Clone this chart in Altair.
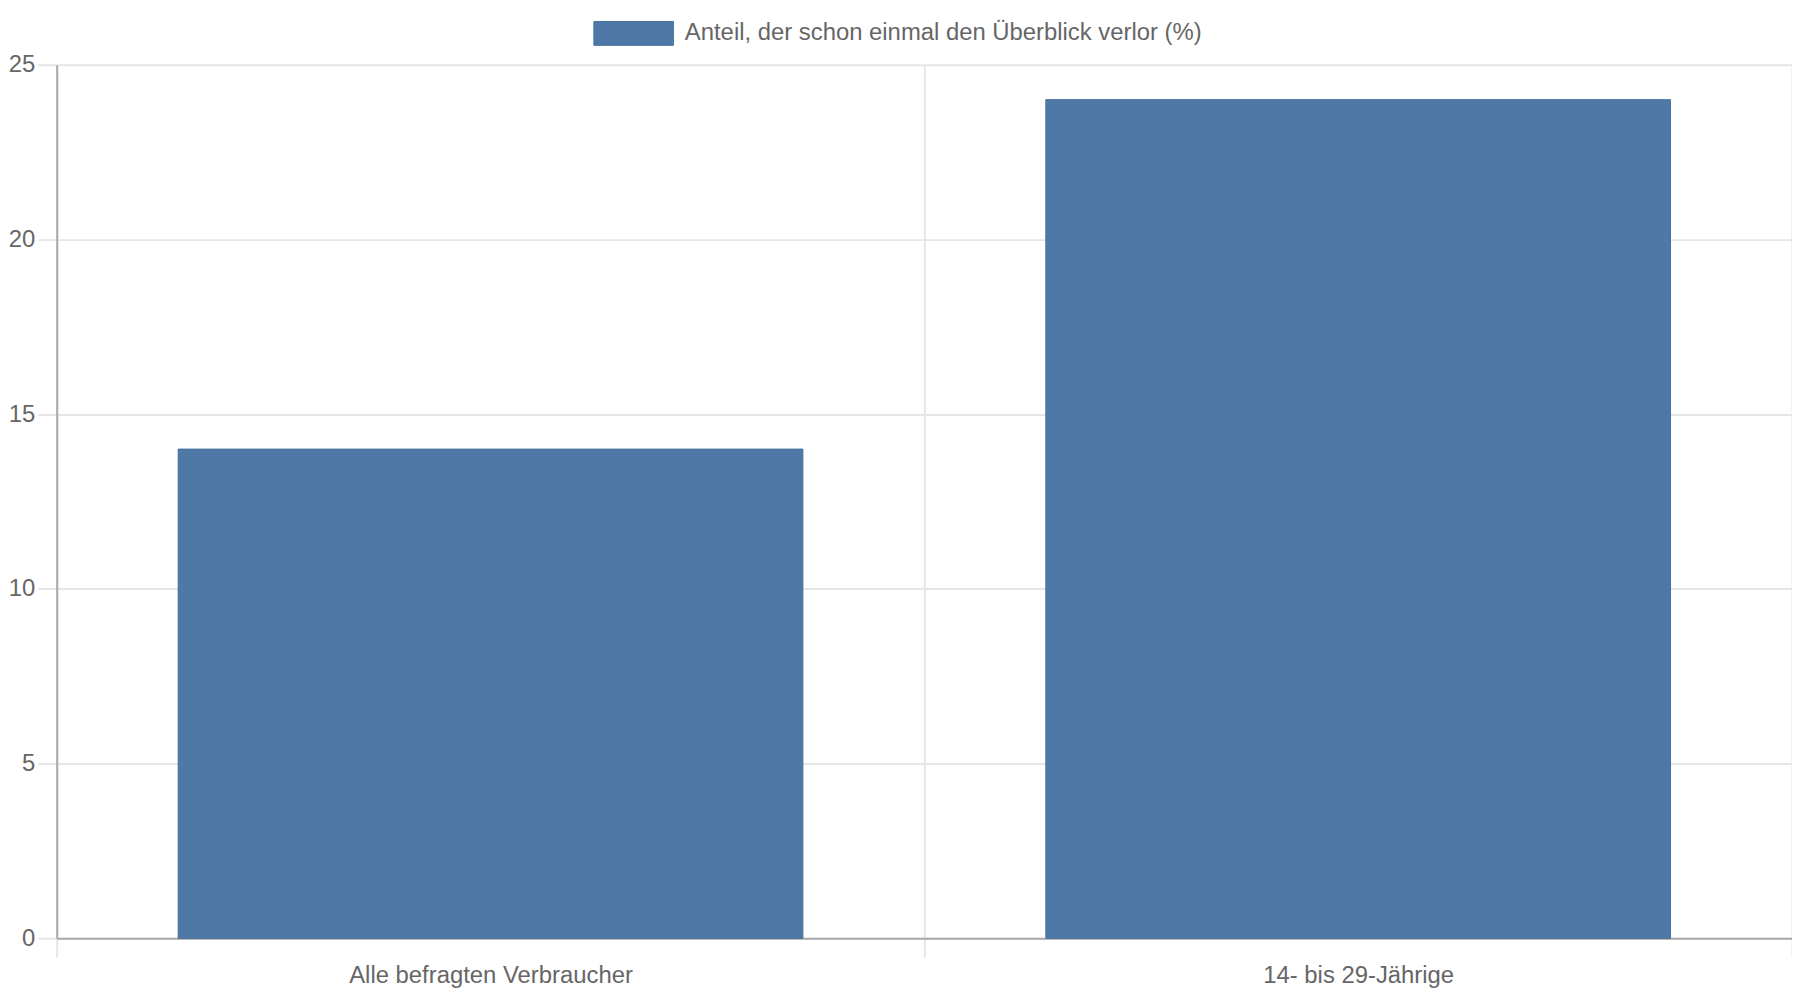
import altair as alt
import pandas as pd

categories = ["Alle befragten Verbraucher", "14- bis 29-Jährige"]
values = [14, 24]
series = "Anteil, der schon einmal den Überblick verlor (%)"
y_ticks = [0, 5, 10, 15, 20, 25]

font = "Liberation Sans"
text_color = "#666666"
grid_color = "#e6e6e6"
axis_color = "#aaaaaa"
bar_color = "#4e79a7"

data = pd.DataFrame({"category": categories, "value": values, "series": [series] * len(categories)})

chart = (
    alt.Chart(data)
    .mark_bar(width=alt.RelativeBandSize(0.72), stroke="#47709c", strokeWidth=1)
    .encode(
        x=alt.X(
            "category",
            type="nominal",
            sort=categories,
            scale=alt.Scale(paddingInner=0, paddingOuter=0),
            axis=alt.Axis(
                title=None,
                labelAngle=0,
                labelLimit=0,
                tickBand="extent",
                tickExtra=True,
                grid=True,
                gridColor=grid_color,
                gridWidth=2,
                ticks=True,
                tickColor=grid_color,
                tickWidth=2,
                tickSize=19,
                domainColor=axis_color,
                domainWidth=2,
                labelPadding=6,
            ),
        ),
        y=alt.Y(
            "value",
            type="quantitative",
            scale=alt.Scale(domain=[0, 25], nice=False),
            axis=alt.Axis(
                title=None,
                values=y_ticks,
                grid=True,
                gridColor=grid_color,
                gridWidth=2,
                tickColor=grid_color,
                tickWidth=2,
                tickSize=19,
                domainColor=axis_color,
                domainWidth=2,
                labelPadding=3,
            ),
        ),
        color=alt.Color(
            "series",
            type="nominal",
            scale=alt.Scale(range=[bar_color]),
            legend=alt.Legend(
                title=None,
                orient="none",
                legendX=540,
                legendY=-72,
                symbolType="M-1,-0.3H1V0.3H-1Z",
                symbolSize=6400,
                symbolStrokeWidth=1,
                symbolStrokeColor="#47709c",
                symbolOpacity=1,
                labelOffset=11,
                labelFontSize=24,
                labelFont=font,
                labelColor=text_color,
                labelLimit=0,
            ),
        ),
    )
    .properties(
        width=1746,
        height=879,
        autosize=alt.AutoSizeParams(type="none"),
        padding={"left": 49, "top": 54, "right": 0, "bottom": 60},
    )
    .configure_axis(labelFont=font, labelFontSize=24, labelColor=text_color)
    .configure_view(strokeWidth=0)
)

chart.save("out.html", embed_options={"renderer": "svg", "actions": False})
